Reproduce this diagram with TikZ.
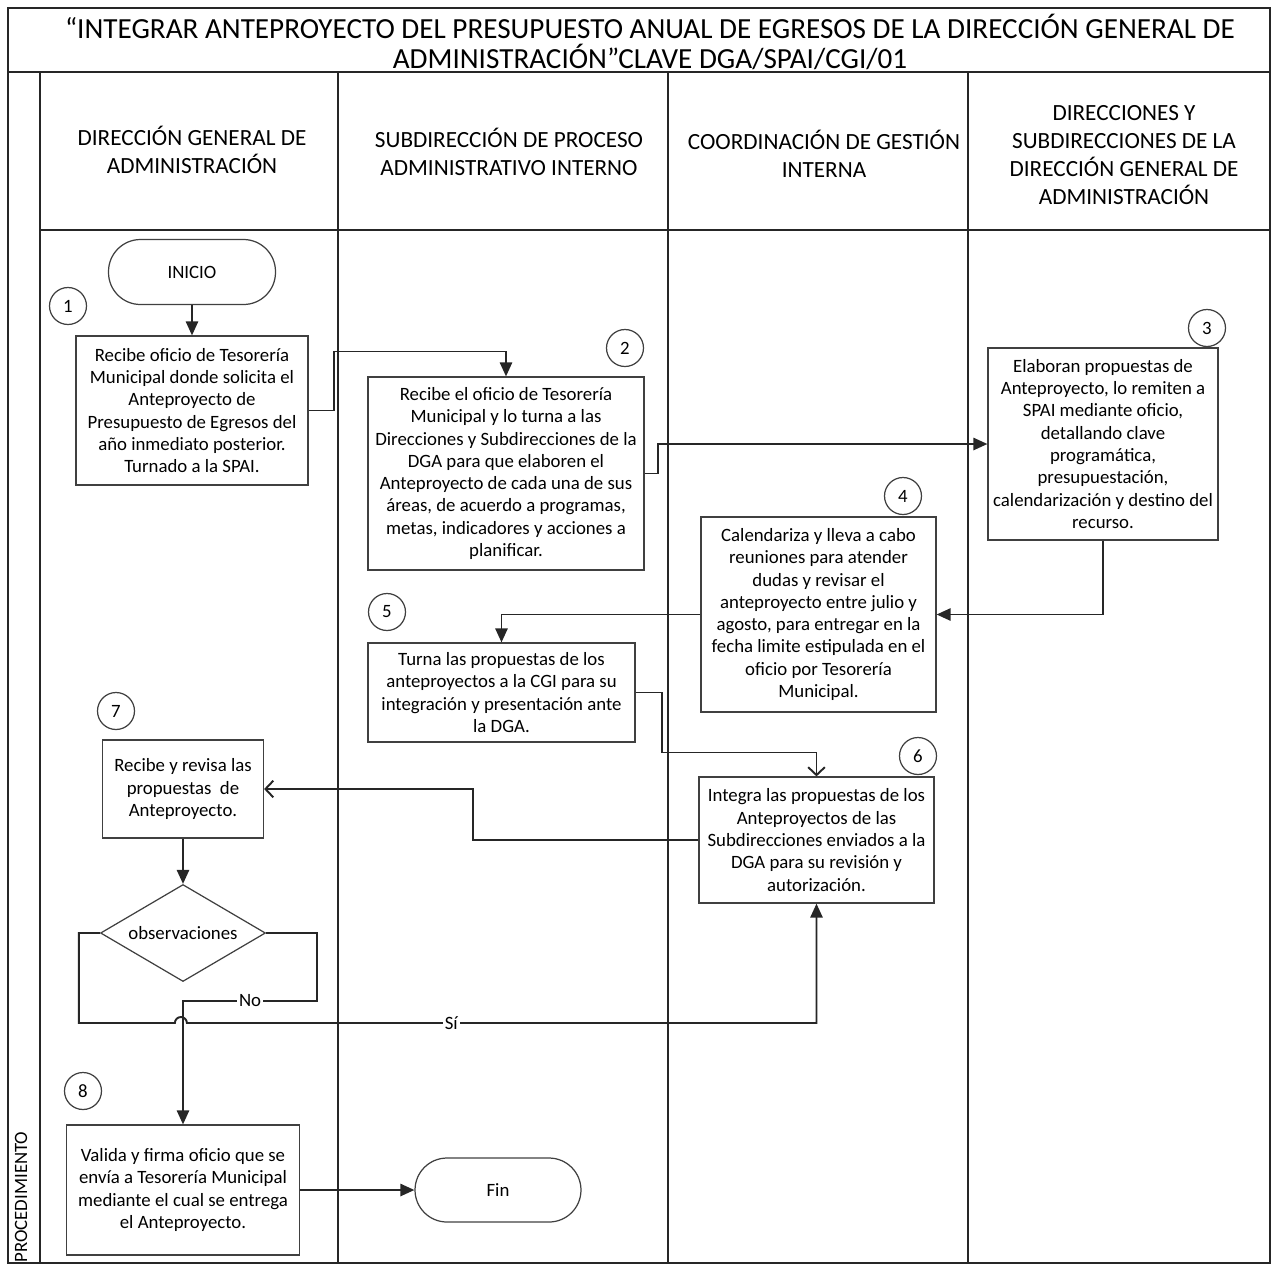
\documentclass[tikz,border=0pt]{standalone}
\usepackage{fontspec}
\setmainfont{Carlito}
\usetikzlibrary{
  arrows.meta,
  shapes.geometric
}
\colorlet{marco}{black!85}
\colorlet{linea}{black!75}
\colorlet{conector}{black!85}

\tikzset{
  texto/.style={font=\fontsize{10.7}{12.7}\selectfont},
  paso/.style 2 args={draw=linea, line width=0.7pt, texto, align=center,
    inner sep=2pt, minimum width=#1, minimum height=#2},
  numero/.style={draw=linea, line width=0.7pt, circle, texto,
    minimum size=0.74cm, inner sep=0pt},
  terminal/.style={draw=linea, line width=0.7pt, rounded corners=0.64cm, texto,
    minimum width=3.34cm, minimum height=1.3cm},
  decision/.style={draw=linea, line width=0.7pt, diamond, texto, inner sep=0pt,
    shape aspect=1.7, minimum width=3.3cm, minimum height=1.94cm},
  encabezado/.style={align=center, font=\fontsize{13.2}{16}\selectfont},
  flecha/.style={draw=conector, line width=1.1pt, -{Triangle[length=8pt,width=7pt]}},
  abierta/.style={draw=conector, line width=1.1pt, -{Straight Barb[length=4.5pt,width=9.5pt]}},
  etiqueta/.style={fill=white, texto, inner sep=1pt}
}

\begin{document}
\begin{tikzpicture}[x=0.02cm, y=-0.02cm]
\useasboundingbox (0,0) rectangle (1275,1272);
% marco, titulo y carriles
\draw[marco, line width=0.9pt] (8,8) rectangle (1270,1263);
\draw[marco, line width=0.9pt] (8,72) -- (1270,72);
\draw[marco, line width=0.9pt] (40,230) -- (1270,230);
\foreach \x in {40,338,668,968}
  \draw[marco, line width=0.9pt] (\x,72) -- (\x,1263);

\node[encabezado, font=\fontsize{16.6}{17.4}\selectfont] (titulo) at (650,42)
  {“INTEGRAR ANTEPROYECTO DEL PRESUPUESTO ANUAL DE EGRESOS DE LA DIRECCIÓN GENERAL DE\\
   ADMINISTRACIÓN”CLAVE DGA/SPAI/CGI/01};
\node[encabezado] (dga) at (192,150) {DIRECCIÓN GENERAL DE\\ADMINISTRACIÓN};
\node[encabezado] (spai) at (509,152) {SUBDIRECCIÓN DE PROCESO\\ADMINISTRATIVO INTERNO};
\node[encabezado] (cgi) at (824,154) {COORDINACIÓN DE GESTIÓN\\INTERNA};
\node[encabezado] (dir) at (1124,155)
  {DIRECCIONES Y\\SUBDIRECCIONES DE LA\\DIRECCIÓN GENERAL DE\\ADMINISTRACIÓN};
\node[texto, rotate=90] (proc) at (21,1197) {PROCEDIMIENTO};

% pasos
\node[terminal] (inicio) at (192,272) {INICIO};
\node[paso={4.64cm}{2.98cm}] (b1) at (192,410.5)
  {Recibe oficio de Tesorería\\ Municipal donde solicita el\\ Anteproyecto de\\
   Presupuesto de Egresos del\\ año inmediato posterior.\\ Turnado a la SPAI.};
\node[paso={5.52cm}{3.86cm}] (b2) at (506,473.5)
  {Recibe el oficio de Tesorería\\ Municipal y lo turna a las\\
   Direcciones y Subdirecciones de la\\ DGA para que elaboren el\\
   Anteproyecto de cada una de sus\\ áreas, de acuerdo a programas,\\
   metas, indicadores y acciones a\\ planificar.};
\node[paso={4.6cm}{3.84cm}] (b3) at (1103,444)
  {Elaboran propuestas de\\ Anteproyecto, lo remiten a\\ SPAI mediante oficio,\\
   detallando clave\\ programática,\\ presupuestación,\\
   calendarización y destino del\\ recurso.};
\node[paso={4.7cm}{3.9cm}] (b4) at (818.5,614.5)
  {Calendariza y lleva a cabo\\ reuniones para atender\\ dudas y revisar el\\
   anteproyecto entre julio y\\ agosto, para entregar en la\\
   fecha limite estipulada en el\\ oficio por Tesorería\\ Municipal.};
\node[paso={5.34cm}{1.98cm}] (b5) at (501.5,692.5)
  {Turna las propuestas de los\\ anteproyectos a la CGI para su\\
   integración y presentación ante\\ la DGA.};
\node[paso={4.7cm}{2.52cm}] (b6) at (816.5,840)
  {Integra las propuestas de los\\ Anteproyectos de las\\
   Subdirecciones enviados a la\\ DGA para su revisión y\\ autorización.};
\node[paso={3.22cm}{1.96cm}] (b7) at (183,789)
  {Recibe y revisa las\\ propuestas~~de\\ Anteproyecto.};
\node[decision] (obs) at (183,933) {observaciones};
\node[paso={4.66cm}{2.6cm}] (b8) at (183,1190)
  {Valida y firma oficio que se\\ envía a Tesorería Municipal\\
   mediante el cual se entrega\\ el Anteproyecto.};
\node[terminal, minimum width=3.32cm, minimum height=1.28cm] (fin) at (498,1190) {Fin};

% numeros de paso
\node[numero] (n1) at (68,306) {1};
\node[numero] (n2) at (625,348) {2};
\node[numero] (n3) at (1207,328) {3};
\node[numero] (n4) at (903,496) {4};
\node[numero] (n5) at (387,612) {5};
\node[numero] (n6) at (918,756) {6};
\node[numero] (n7) at (116,711) {7};
\node[numero] (n8) at (83,1091) {8};

% conectores
\draw[flecha] (inicio) -- (b1);
\draw[flecha] (b1.east) -- ++(25,0) -- ++(0,-59) -| (b2.north);
\draw[flecha] (b2.east) -- ++(13,0) |- (b3.west);
\draw[flecha] (b3.south) |- (b4.east);
\draw[flecha] (b4.west) -| (b5.north);
\draw[abierta] (b5.east) -- ++(26,0) -- ++(0,60) -| (b6.north);
\draw[abierta] (b6.west) -- ++(-225,0) |- (b7.east);
\draw[flecha] (b7) -- (obs);
\draw[flecha] (obs.east) -- ++(51,0) -- ++(0,68)
  -| node[etiqueta, pos=0.25] {No} (b8.north);
\draw[flecha] (obs.west) -- ++(-21,0) -- ++(0,90) -- ++(96,0)
  arc[start angle=180, end angle=0, radius=0.12cm]
  -| node[etiqueta, pos=0.21] {Sí} (b6.south);
\draw[flecha] (b8) -- (fin);
\end{tikzpicture}
\end{document}
